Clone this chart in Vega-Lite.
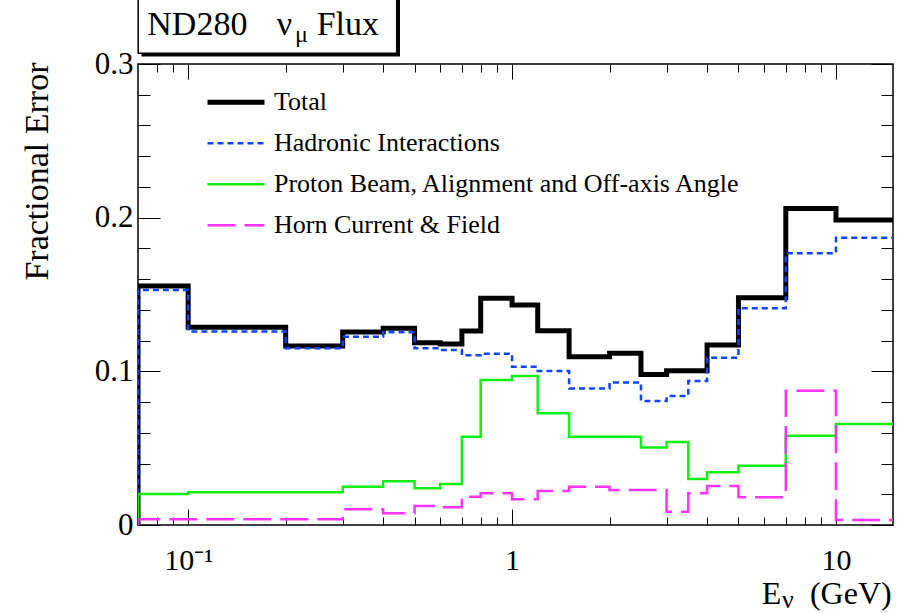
{
  "$schema": "https://vega.github.io/schema/vega-lite/v6.json",
  "width": 755,
  "height": 461,
  "autosize": {"type": "none"},
  "padding": {"left": 138, "top": 64, "right": 20, "bottom": 88},
  "background": "white",
  "config": {
    "view": {"stroke": "#000", "strokeWidth": 1.5},
    "font": "Liberation Serif",
    "axis": {
      "domain": false, "grid": false, "tickColor": "#000", "tickWidth": 1,
      "labelColor": "#000", "labelFont": "Liberation Serif", "labelFontSize": 31,
      "titleFont": "Liberation Serif", "titleFontSize": 34, "titleFontWeight": "normal", "titleColor": "#000",
      "labelFlush": false, "labelOverlap": false
    },
    "legend": {
      "orient": "none", "legendX": 67, "legendY": 18,
      "symbolType": "stroke", "symbolSize": 3249, "symbolStrokeWidth": 2.5,
      "labelFont": "Liberation Serif", "labelFontSize": 26, "labelColor": "#000",
      "labelOffset": 7, "labelLimit": 0, "rowPadding": 0, "clipHeight": 40.7, "padding": 0
    }
  },
  "datasets": {
    "hist": [
      {"s":"Total","i":0,"e":0.07,"v":0},
      {"s":"Total","i":1,"e":0.07,"v":0.1555},
      {"s":"Total","i":2,"e":0.1,"v":0.1287},
      {"s":"Total","i":3,"e":0.2,"v":0.1165},
      {"s":"Total","i":4,"e":0.3,"v":0.1256},
      {"s":"Total","i":5,"e":0.4,"v":0.128},
      {"s":"Total","i":6,"e":0.5,"v":0.1186},
      {"s":"Total","i":7,"e":0.6,"v":0.1178},
      {"s":"Total","i":8,"e":0.7,"v":0.1262},
      {"s":"Total","i":9,"e":0.8,"v":0.1475},
      {"s":"Total","i":10,"e":1.0,"v":0.1431},
      {"s":"Total","i":11,"e":1.2,"v":0.1264},
      {"s":"Total","i":12,"e":1.5,"v":0.1095},
      {"s":"Total","i":13,"e":2.0,"v":0.1117},
      {"s":"Total","i":14,"e":2.5,"v":0.098},
      {"s":"Total","i":15,"e":3.0,"v":0.1004},
      {"s":"Total","i":16,"e":3.5,"v":0.1004},
      {"s":"Total","i":17,"e":4.0,"v":0.1171},
      {"s":"Total","i":18,"e":5.0,"v":0.1479},
      {"s":"Total","i":19,"e":7.0,"v":0.206},
      {"s":"Total","i":20,"e":10.0,"v":0.1985},
      {"s":"Total","i":21,"e":30.0,"v":0.1985},
      {"s":"Hadronic Interactions","i":0,"e":0.07,"v":0},
      {"s":"Hadronic Interactions","i":1,"e":0.07,"v":0.153},
      {"s":"Hadronic Interactions","i":2,"e":0.1,"v":0.126},
      {"s":"Hadronic Interactions","i":3,"e":0.2,"v":0.115},
      {"s":"Hadronic Interactions","i":4,"e":0.3,"v":0.1225},
      {"s":"Hadronic Interactions","i":5,"e":0.4,"v":0.1254},
      {"s":"Hadronic Interactions","i":6,"e":0.5,"v":0.115},
      {"s":"Hadronic Interactions","i":7,"e":0.6,"v":0.1139},
      {"s":"Hadronic Interactions","i":8,"e":0.7,"v":0.1104},
      {"s":"Hadronic Interactions","i":9,"e":0.8,"v":0.1115},
      {"s":"Hadronic Interactions","i":10,"e":1.0,"v":0.103},
      {"s":"Hadronic Interactions","i":11,"e":1.2,"v":0.1002},
      {"s":"Hadronic Interactions","i":12,"e":1.5,"v":0.0889},
      {"s":"Hadronic Interactions","i":13,"e":2.0,"v":0.0928},
      {"s":"Hadronic Interactions","i":14,"e":2.5,"v":0.0807},
      {"s":"Hadronic Interactions","i":15,"e":3.0,"v":0.0839},
      {"s":"Hadronic Interactions","i":16,"e":3.5,"v":0.0937},
      {"s":"Hadronic Interactions","i":17,"e":4.0,"v":0.1089},
      {"s":"Hadronic Interactions","i":18,"e":5.0,"v":0.141},
      {"s":"Hadronic Interactions","i":19,"e":7.0,"v":0.1768},
      {"s":"Hadronic Interactions","i":20,"e":10.0,"v":0.1869},
      {"s":"Hadronic Interactions","i":21,"e":30.0,"v":0.1869},
      {"s":"Proton Beam, Alignment and Off-axis Angle","i":0,"e":0.07,"v":0},
      {"s":"Proton Beam, Alignment and Off-axis Angle","i":1,"e":0.07,"v":0.0202},
      {"s":"Proton Beam, Alignment and Off-axis Angle","i":2,"e":0.1,"v":0.0213},
      {"s":"Proton Beam, Alignment and Off-axis Angle","i":3,"e":0.2,"v":0.0213},
      {"s":"Proton Beam, Alignment and Off-axis Angle","i":4,"e":0.3,"v":0.0249},
      {"s":"Proton Beam, Alignment and Off-axis Angle","i":5,"e":0.4,"v":0.0284},
      {"s":"Proton Beam, Alignment and Off-axis Angle","i":6,"e":0.5,"v":0.0239},
      {"s":"Proton Beam, Alignment and Off-axis Angle","i":7,"e":0.6,"v":0.0267},
      {"s":"Proton Beam, Alignment and Off-axis Angle","i":8,"e":0.7,"v":0.0575},
      {"s":"Proton Beam, Alignment and Off-axis Angle","i":9,"e":0.8,"v":0.0943},
      {"s":"Proton Beam, Alignment and Off-axis Angle","i":10,"e":1.0,"v":0.097},
      {"s":"Proton Beam, Alignment and Off-axis Angle","i":11,"e":1.2,"v":0.0727},
      {"s":"Proton Beam, Alignment and Off-axis Angle","i":12,"e":1.5,"v":0.0575},
      {"s":"Proton Beam, Alignment and Off-axis Angle","i":13,"e":2.0,"v":0.0575},
      {"s":"Proton Beam, Alignment and Off-axis Angle","i":14,"e":2.5,"v":0.0505},
      {"s":"Proton Beam, Alignment and Off-axis Angle","i":15,"e":3.0,"v":0.054},
      {"s":"Proton Beam, Alignment and Off-axis Angle","i":16,"e":3.5,"v":0.0299},
      {"s":"Proton Beam, Alignment and Off-axis Angle","i":17,"e":4.0,"v":0.0343},
      {"s":"Proton Beam, Alignment and Off-axis Angle","i":18,"e":5.0,"v":0.0386},
      {"s":"Proton Beam, Alignment and Off-axis Angle","i":19,"e":7.0,"v":0.0581},
      {"s":"Proton Beam, Alignment and Off-axis Angle","i":20,"e":10.0,"v":0.0657},
      {"s":"Proton Beam, Alignment and Off-axis Angle","i":21,"e":30.0,"v":0.0657},
      {"s":"Horn Current & Field","i":0,"e":0.07,"v":0},
      {"s":"Horn Current & Field","i":1,"e":0.07,"v":0.0037},
      {"s":"Horn Current & Field","i":2,"e":0.1,"v":0.0037},
      {"s":"Horn Current & Field","i":3,"e":0.2,"v":0.0037},
      {"s":"Horn Current & Field","i":4,"e":0.3,"v":0.0102},
      {"s":"Horn Current & Field","i":5,"e":0.4,"v":0.0076},
      {"s":"Horn Current & Field","i":6,"e":0.5,"v":0.0124},
      {"s":"Horn Current & Field","i":7,"e":0.6,"v":0.0115},
      {"s":"Horn Current & Field","i":8,"e":0.7,"v":0.0184},
      {"s":"Horn Current & Field","i":9,"e":0.8,"v":0.0206},
      {"s":"Horn Current & Field","i":10,"e":1.0,"v":0.0167},
      {"s":"Horn Current & Field","i":11,"e":1.2,"v":0.0221},
      {"s":"Horn Current & Field","i":12,"e":1.5,"v":0.0249},
      {"s":"Horn Current & Field","i":13,"e":2.0,"v":0.0228},
      {"s":"Horn Current & Field","i":14,"e":2.5,"v":0.0228},
      {"s":"Horn Current & Field","i":15,"e":3.0,"v":0.0087},
      {"s":"Horn Current & Field","i":16,"e":3.5,"v":0.0206},
      {"s":"Horn Current & Field","i":17,"e":4.0,"v":0.0254},
      {"s":"Horn Current & Field","i":18,"e":5.0,"v":0.018},
      {"s":"Horn Current & Field","i":19,"e":7.0,"v":0.0874},
      {"s":"Horn Current & Field","i":20,"e":10.0,"v":0.0033},
      {"s":"Horn Current & Field","i":21,"e":30.0,"v":0.0033}
    ]
  },
  "data": {"name": "hist"},
  "resolve": {"axis": {"x": "independent", "y": "independent"}},
  "layer": [
    {
      "transform": [{"filter": "datum.s == 'Total'"}],
      "mark": {"type": "line", "interpolate": "step-after", "clip": true},
      "encoding": {
        "x": {"field": "e", "type": "quantitative", "scale": {"type": "log", "domain": [0.07, 15], "nice": false},
              "axis": {"orient": "bottom", "values": [0.1, 1, 10], "tickSize": -16, "labelPadding": 36, "labelBaseline": "top", "labelFontSize": 30,
                       "labelExpr": "datum.value < 0.5 ? '10⁻¹' : datum.value < 5 ? '1' : '10'", "title": null}},
        "y": {"field": "v", "type": "quantitative", "scale": {"domain": [0, 0.3], "nice": false, "zero": false},
              "axis": {"orient": "left", "values": [0, 0.1, 0.2, 0.3], "tickSize": -22, "labelPadding": 27,
                       "labelExpr": "datum.value == 0 ? '0' : format(datum.value, '.1f')",
                       "title": "Fractional Error", "titleAngle": -90, "titleX": -91, "titleY": -2,
                       "titleAlign": "right", "titleBaseline": "alphabetic"}},
        "order": {"field": "i"},
        "color": {"field": "s", "type": "nominal", "scale": {"domain": ["Total", "Hadronic Interactions", "Proton Beam, Alignment and Off-axis Angle", "Horn Current & Field"], "range": ["#000000", "#1144ff", "#11ee11", "#ff33ff"]}, "legend": {"title": null, "labelFont": "Liberation Serif", "labelFontSize": 26}},
        "strokeDash": {"field": "s", "type": "nominal", "scale": {"domain": ["Total", "Hadronic Interactions", "Proton Beam, Alignment and Off-axis Angle", "Horn Current & Field"], "range": [[1, 0], [6, 4], [1, 0], [28, 9]]}, "legend": {"title": null, "labelFont": "Liberation Serif", "labelFontSize": 26}},
        "strokeWidth": {"field": "s", "type": "nominal", "scale": {"type": "ordinal", "domain": ["Total", "Hadronic Interactions", "Proton Beam, Alignment and Off-axis Angle", "Horn Current & Field"], "range": [5, 2.5, 2.5, 2.5]}, "legend": {"title": null, "labelFont": "Liberation Serif", "labelFontSize": 26}}
      }
    },
    {
      "transform": [{"filter": "datum.s == 'Hadronic Interactions'"}],
      "mark": {"type": "line", "interpolate": "step-after", "clip": true},
      "encoding": {
        "x": {"field": "e", "type": "quantitative", "scale": {"type": "log", "domain": [0.07, 15], "nice": false},
              "axis": {"orient": "bottom", "values": [0.08, 0.09, 0.2, 0.3, 0.4, 0.5, 0.6, 0.7, 0.8, 0.9, 2, 3, 4, 5, 6, 7, 8, 9], "tickSize": -8, "labels": false, "title": null}},
        "y": {"field": "v", "type": "quantitative", "scale": {"domain": [0, 0.3], "nice": false, "zero": false},
              "axis": {"orient": "left", "values": [0.02, 0.04, 0.06, 0.08, 0.12, 0.14, 0.16, 0.18, 0.22, 0.24, 0.26, 0.28], "tickSize": -12, "labels": false, "title": null}},
        "order": {"field": "i"},
        "color": {"field": "s", "type": "nominal", "scale": {"domain": ["Total", "Hadronic Interactions", "Proton Beam, Alignment and Off-axis Angle", "Horn Current & Field"], "range": ["#000000", "#1144ff", "#11ee11", "#ff33ff"]}, "legend": {"title": null, "labelFont": "Liberation Serif", "labelFontSize": 26}},
        "strokeDash": {"field": "s", "type": "nominal", "scale": {"domain": ["Total", "Hadronic Interactions", "Proton Beam, Alignment and Off-axis Angle", "Horn Current & Field"], "range": [[1, 0], [6, 4], [1, 0], [28, 9]]}, "legend": {"title": null, "labelFont": "Liberation Serif", "labelFontSize": 26}},
        "strokeWidth": {"field": "s", "type": "nominal", "scale": {"type": "ordinal", "domain": ["Total", "Hadronic Interactions", "Proton Beam, Alignment and Off-axis Angle", "Horn Current & Field"], "range": [5, 2.5, 2.5, 2.5]}, "legend": {"title": null, "labelFont": "Liberation Serif", "labelFontSize": 26}}
      }
    },
    {
      "transform": [{"filter": "datum.s == 'Proton Beam, Alignment and Off-axis Angle'"}],
      "mark": {"type": "line", "interpolate": "step-after", "clip": true},
      "encoding": {
        "x": {"field": "e", "type": "quantitative", "scale": {"type": "log", "domain": [0.07, 15], "nice": false},
              "axis": {"orient": "top", "values": [0.1, 1, 10], "tickSize": -15, "labels": false, "title": null}},
        "y": {"field": "v", "type": "quantitative", "scale": {"domain": [0, 0.3], "nice": false, "zero": false},
              "axis": {"orient": "right", "values": [0, 0.1, 0.2, 0.3], "tickSize": -22, "labels": false, "title": null}},
        "order": {"field": "i"},
        "color": {"field": "s", "type": "nominal", "scale": {"domain": ["Total", "Hadronic Interactions", "Proton Beam, Alignment and Off-axis Angle", "Horn Current & Field"], "range": ["#000000", "#1144ff", "#11ee11", "#ff33ff"]}, "legend": {"title": null, "labelFont": "Liberation Serif", "labelFontSize": 26}},
        "strokeDash": {"field": "s", "type": "nominal", "scale": {"domain": ["Total", "Hadronic Interactions", "Proton Beam, Alignment and Off-axis Angle", "Horn Current & Field"], "range": [[1, 0], [6, 4], [1, 0], [28, 9]]}, "legend": {"title": null, "labelFont": "Liberation Serif", "labelFontSize": 26}},
        "strokeWidth": {"field": "s", "type": "nominal", "scale": {"type": "ordinal", "domain": ["Total", "Hadronic Interactions", "Proton Beam, Alignment and Off-axis Angle", "Horn Current & Field"], "range": [5, 2.5, 2.5, 2.5]}, "legend": {"title": null, "labelFont": "Liberation Serif", "labelFontSize": 26}}
      }
    },
    {
      "transform": [{"filter": "datum.s == 'Horn Current & Field'"}],
      "mark": {"type": "line", "interpolate": "step-after", "clip": true},
      "encoding": {
        "x": {"field": "e", "type": "quantitative", "scale": {"type": "log", "domain": [0.07, 15], "nice": false},
              "axis": {"orient": "top", "values": [0.08, 0.09, 0.2, 0.3, 0.4, 0.5, 0.6, 0.7, 0.8, 0.9, 2, 3, 4, 5, 6, 7, 8, 9], "tickSize": -8, "labels": false, "title": null}},
        "y": {"field": "v", "type": "quantitative", "scale": {"domain": [0, 0.3], "nice": false, "zero": false},
              "axis": {"orient": "right", "values": [0.02, 0.04, 0.06, 0.08, 0.12, 0.14, 0.16, 0.18, 0.22, 0.24, 0.26, 0.28], "tickSize": -12, "labels": false, "title": null}},
        "order": {"field": "i"},
        "color": {"field": "s", "type": "nominal", "scale": {"domain": ["Total", "Hadronic Interactions", "Proton Beam, Alignment and Off-axis Angle", "Horn Current & Field"], "range": ["#000000", "#1144ff", "#11ee11", "#ff33ff"]}, "legend": {"title": null, "labelFont": "Liberation Serif", "labelFontSize": 26}},
        "strokeDash": {"field": "s", "type": "nominal", "scale": {"domain": ["Total", "Hadronic Interactions", "Proton Beam, Alignment and Off-axis Angle", "Horn Current & Field"], "range": [[1, 0], [6, 4], [1, 0], [28, 9]]}, "legend": {"title": null, "labelFont": "Liberation Serif", "labelFontSize": 26}},
        "strokeWidth": {"field": "s", "type": "nominal", "scale": {"type": "ordinal", "domain": ["Total", "Hadronic Interactions", "Proton Beam, Alignment and Off-axis Angle", "Horn Current & Field"], "range": [5, 2.5, 2.5, 2.5]}, "legend": {"title": null, "labelFont": "Liberation Serif", "labelFontSize": 26}}
      }
    },
    {
      "data": {"values": [{}]},
      "mark": {"type": "rect", "fill": "#000", "clip": false},
      "encoding": {
        "x": {"datum": 0.07176, "type": "quantitative", "axis": null},
        "x2": {"datum": 0.4508},
        "y": {"datum": 0.36, "type": "quantitative", "axis": null},
        "y2": {"datum": 0.30488}
      }
    },
    {
      "data": {"values": [{}]},
      "mark": {"type": "rect", "fill": "#fff", "stroke": "#000", "strokeWidth": 1.5, "clip": false},
      "encoding": {
        "x": {"datum": 0.0701, "type": "quantitative", "axis": null},
        "x2": {"datum": 0.4404},
        "y": {"datum": 0.36, "type": "quantitative", "axis": null},
        "y2": {"datum": 0.30696}
      }
    },
    {
      "data": {"values": [{"t": "ND280", "x": 0.07478, "y": 0.31887}, {"t": "ν", "x": 0.18767, "y": 0.31887}, {"t": "Flux", "x": 0.2493, "y": 0.31887}]},
      "mark": {"type": "text", "align": "left", "baseline": "alphabetic", "font": "Liberation Serif", "fontSize": 34, "color": "#000"},
      "encoding": {
        "x": {"field": "x", "type": "quantitative", "axis": null},
        "y": {"field": "y", "type": "quantitative", "axis": null},
        "text": {"field": "t"}
      }
    },
    {
      "data": {"values": [{"t": "μ"}]},
      "mark": {"type": "text", "align": "left", "baseline": "alphabetic", "font": "Liberation Serif", "fontSize": 24, "color": "#000"},
      "encoding": {
        "x": {"datum": 0.2137, "type": "quantitative", "axis": null},
        "y": {"datum": 0.31451, "type": "quantitative", "axis": null},
        "text": {"field": "t"}
      }
    },
    {
      "data": {"values": [{"t": "E"}]},
      "mark": {"type": "text", "align": "left", "baseline": "alphabetic", "font": "Liberation Serif", "fontSize": 32, "color": "#000"},
      "encoding": {
        "x": {"datum": 5.897, "type": "quantitative", "axis": null},
        "y": {"datum": -0.0516, "type": "quantitative", "axis": null},
        "text": {"field": "t"}
      }
    },
    {
      "data": {"values": [{"t": "ν"}]},
      "mark": {"type": "text", "align": "left", "baseline": "alphabetic", "font": "Liberation Serif", "fontSize": 26, "color": "#000"},
      "encoding": {
        "x": {"datum": 6.814, "type": "quantitative", "axis": null},
        "y": {"datum": -0.0538, "type": "quantitative", "axis": null},
        "text": {"field": "t"}
      }
    },
    {
      "data": {"values": [{"t": "(GeV)"}]},
      "mark": {"type": "text", "align": "right", "baseline": "alphabetic", "font": "Liberation Serif", "fontSize": 32, "color": "#000"},
      "encoding": {
        "x": {"datum": 14.86, "type": "quantitative", "axis": null},
        "y": {"datum": -0.0516, "type": "quantitative", "axis": null},
        "text": {"field": "t"}
      }
    }
  ]
}
